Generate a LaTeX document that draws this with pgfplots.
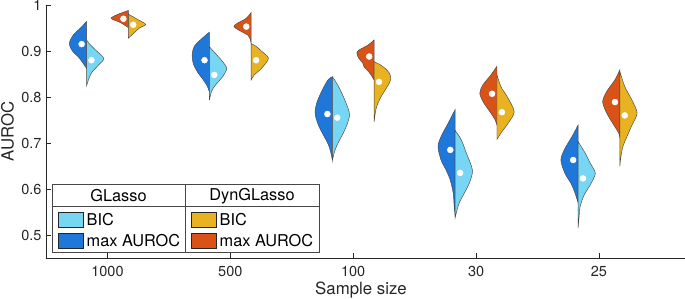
\documentclass[border=0pt]{standalone}
\usepackage{fontspec}
\setmainfont{TeX Gyre Heros}
\usepackage{pgfplots}
\pgfplotsset{compat=1.18}
\definecolor{lblue}{RGB}{118,214,244}
\definecolor{dblue}{RGB}{31,120,217}
\definecolor{yel}{RGB}{232,178,34}
\definecolor{ora}{RGB}{217,83,25}
\definecolor{axg}{RGB}{38,38,38}
\definecolor{edg}{RGB}{70,70,70}
\newcommand{\hv}[4]{%
  \addplot[fill=#3, draw=edg, line width=0.45pt, smooth, tension=0.5]
    table[row sep=\\, x expr={#1+(#2)*\thisrow{w}*0.00824}, y=y] {y w\\ #4} -- cycle;
}
\begin{document}
\begin{tikzpicture}
\begin{axis}[
  scale only axis, width=639pt, height=253pt,
  xmin=0.5, xmax=5.7, ymin=0.45, ymax=1,
  axis x line*=bottom, axis y line*=left,
  axis line style={axg, line width=0.6pt},
  tick align=inside, major tick length=5pt,
  tick style={axg, line width=0.6pt},
  xtick={1,2,3,4,5}, xticklabels={1000,500,100,30,25},
  ytick={0.5,0.6,0.7,0.8,0.9,1},
  yticklabels={0.5,0.6,0.7,0.8,0.9,1},
  ticklabel style={font=\fontsize{14.5}{16}\selectfont, text=axg},
  xticklabel style={yshift=-5pt},
  yticklabel style={xshift=-1pt},
  xlabel={Sample size}, ylabel={AUROC},
  every axis x label/.style={at={(axis description cs:0.493,0)}, anchor=base, yshift=-37pt, font=\fontsize{16.8}{19}\selectfont, text=axg},
  every axis y label/.style={at={(axis description cs:-0.0603,0.5)}, rotate=90, anchor=center, font=\fontsize{16.8}{19}\selectfont, text=axg},
]
% 1000
\hv{0.83}{-1}{dblue}{0.862 0\\ 0.872 3\\ 0.887 8\\ 0.900 14\\ 0.917 17\\ 0.935 13\\ 0.950 6\\ 0.964 0\\}
\hv{0.83}{1}{lblue}{0.824 0\\ 0.838 2\\ 0.853 5\\ 0.870 12\\ 0.884 17\\ 0.902 9\\ 0.915 3\\ 0.924 0\\}
\hv{1.17}{-1}{ora}{0.951 0\\ 0.962 8\\ 0.971 17\\ 0.980 10\\ 0.988 0\\}
\hv{1.17}{1}{yel}{0.928 0\\ 0.940 6\\ 0.950 11\\ 0.958 17\\ 0.970 8\\ 0.980 0\\}
% 500
\hv{1.83}{-1}{dblue}{0.810 0\\ 0.823 2\\ 0.837 6\\ 0.855 12\\ 0.873 16\\ 0.892 17\\ 0.910 15\\ 0.928 7\\ 0.941 0\\}
\hv{1.83}{1}{lblue}{0.793 0\\ 0.812 2\\ 0.826 6\\ 0.844 13\\ 0.862 17\\ 0.877 13\\ 0.892 7\\ 0.909 0\\}
\hv{2.17}{-1}{ora}{0.915 0\\ 0.926 1\\ 0.934 3\\ 0.945 12\\ 0.953 17\\ 0.960 14\\ 0.971 5\\ 0.984 0\\}
\hv{2.17}{1}{yel}{0.837 0\\ 0.848 3\\ 0.862 10\\ 0.884 17\\ 0.900 10\\ 0.910 5\\ 0.916 0\\}
% 100
\hv{2.83}{-1}{dblue}{0.663 0\\ 0.679 1.5\\ 0.697 4\\ 0.718 9\\ 0.740 14\\ 0.765 17\\ 0.790 15\\ 0.819 9\\ 0.838 4\\ 0.844 0\\}
\hv{2.83}{1}{lblue}{0.661 0\\ 0.680 2\\ 0.697 5\\ 0.718 10\\ 0.737 14\\ 0.762 17\\ 0.790 13\\ 0.819 7\\ 0.838 2\\ 0.844 0\\}
\hv{3.17}{-1}{ora}{0.837 0\\ 0.848 3\\ 0.859 7\\ 0.866 10\\ 0.873 11\\ 0.884 15\\ 0.895 17\\ 0.902 15\\ 0.913 6\\ 0.924 0\\}
\hv{3.17}{1}{yel}{0.746 0\\ 0.775 2\\ 0.797 6\\ 0.819 12\\ 0.830 15\\ 0.841 16.5\\ 0.852 15\\ 0.862 11\\ 0.870 6\\ 0.877 0\\}
% 30
\hv{3.83}{-1}{dblue}{0.540 0\\ 0.562 1\\ 0.591 2\\ 0.620 5\\ 0.641 9\\ 0.663 14\\ 0.692 17\\ 0.714 14\\ 0.743 7\\ 0.773 0\\}
\hv{3.83}{1}{lblue}{0.538 0\\ 0.552 1.5\\ 0.570 4\\ 0.591 9\\ 0.613 14\\ 0.641 17\\ 0.678 11\\ 0.707 6\\ 0.727 0\\}
\hv{4.17}{-1}{ora}{0.739 0\\ 0.751 2\\ 0.765 6\\ 0.787 13\\ 0.808 17\\ 0.826 14\\ 0.848 6\\ 0.867 0\\}
\hv{4.17}{1}{yel}{0.708 0\\ 0.725 5\\ 0.743 11\\ 0.768 17\\ 0.801 10\\ 0.822 4\\ 0.848 0\\}
% 25
\hv{4.83}{-1}{dblue}{0.570 0\\ 0.591 3\\ 0.612 7\\ 0.634 13\\ 0.663 17\\ 0.688 13\\ 0.714 6\\ 0.739 0\\}
\hv{4.83}{1}{lblue}{0.515 0\\ 0.540 1\\ 0.562 2\\ 0.587 6\\ 0.609 12\\ 0.634 17\\ 0.656 12\\ 0.678 7\\ 0.703 0\\}
\hv{5.17}{-1}{ora}{0.710 0\\ 0.721 1\\ 0.739 6\\ 0.765 13\\ 0.790 17\\ 0.812 13\\ 0.837 5\\ 0.859 0\\}
\hv{5.17}{1}{yel}{0.649 0\\ 0.670 1\\ 0.692 3\\ 0.714 7\\ 0.739 12\\ 0.765 17\\ 0.793 12\\ 0.822 5\\ 0.855 0\\}
% medians
\addplot[only marks, mark=*, mark size=3pt, mark options={fill=white, draw=white}] coordinates {
 (0.79,0.915) (0.87,0.880) (1.13,0.970) (1.21,0.957)
 (1.79,0.880) (1.87,0.848) (2.13,0.953) (2.21,0.880)
 (2.79,0.763) (2.87,0.755) (3.13,0.888) (3.21,0.833)
 (3.79,0.685) (3.87,0.635) (4.13,0.807) (4.21,0.767)
 (4.79,0.663) (4.87,0.623) (5.13,0.789) (5.21,0.760)
};
\end{axis}
\begin{scope}[font=\fontsize{16.3}{19}\selectfont]
\draw[axg!85, line width=0.6pt, fill=white] (6pt,6pt) rectangle (273pt,74pt);
\draw[axg!85, line width=0.6pt] (6pt,52pt) -- (273pt,52pt);
\draw[axg!85, line width=0.6pt] (139pt,6pt) -- (139pt,74pt);
\node at (72.5pt,62pt) {GLasso};
\node at (206pt,62pt) {DynGLasso};
\draw[fill=lblue, draw=axg, line width=0.5pt] (12pt,31pt) rectangle (37pt,46pt);
\draw[fill=dblue, draw=axg, line width=0.5pt] (12pt,10pt) rectangle (37pt,25pt);
\draw[fill=yel, draw=axg, line width=0.5pt] (145pt,31pt) rectangle (170pt,46pt);
\draw[fill=ora, draw=axg, line width=0.5pt] (145pt,10pt) rectangle (170pt,25pt);
\node[anchor=west, inner sep=0pt] at (40.5pt,38.5pt) {BIC};
\node[anchor=west, inner sep=0pt] at (40.5pt,17.5pt) {max AUROC};
\node[anchor=west, inner sep=0pt] at (173.5pt,38.5pt) {BIC};
\node[anchor=west, inner sep=0pt] at (173.5pt,17.5pt) {max AUROC};
\end{scope}
\pgfresetboundingbox
\path[use as bounding box] (-46pt,-41pt) rectangle (639pt,258pt);
\end{tikzpicture}
\end{document}
